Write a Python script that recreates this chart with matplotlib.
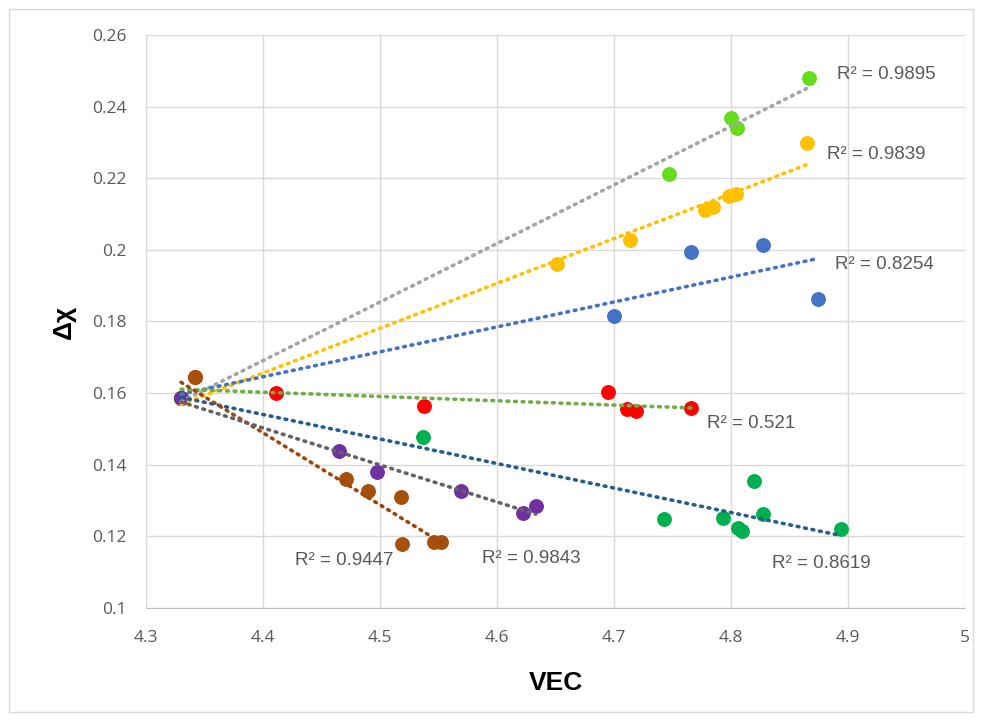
import numpy as np
import matplotlib
matplotlib.use("Agg")
import matplotlib.pyplot as plt
from matplotlib.patches import Rectangle

plt.rcParams['font.family'] = ['Open Sans', 'DejaVu Sans']

# ---- data ----
lime_x = [4.330, 4.747, 4.800, 4.805, 4.867]
lime_y = [0.1585, 0.2213, 0.2369, 0.2339, 0.2481]

orange_x = [4.330, 4.651, 4.714, 4.778, 4.785, 4.798, 4.804, 4.865]
orange_y = [0.1585, 0.1960, 0.2028, 0.2111, 0.2120, 0.2151, 0.2157, 0.2297]

blue_x = [4.330, 4.700, 4.766, 4.827, 4.874]
blue_y = [0.1585, 0.1814, 0.1995, 0.2013, 0.1863]

red_x = [4.330, 4.342, 4.411, 4.538, 4.695, 4.711, 4.719, 4.766]
red_y = [0.1585, 0.1645, 0.1600, 0.1565, 0.1604, 0.1557, 0.1549, 0.1558]

green_x = [4.330, 4.537, 4.743, 4.793, 4.806, 4.809, 4.820, 4.827, 4.894]
green_y = [0.1585, 0.1478, 0.1249, 0.1251, 0.1222, 0.1215, 0.1355, 0.1262, 0.1220]

brown_x = [4.330, 4.342, 4.471, 4.490, 4.518, 4.519, 4.546, 4.552]
brown_y = [0.1585, 0.1645, 0.1360, 0.1327, 0.1309, 0.1178, 0.1183, 0.1183]

purple_x = [4.330, 4.465, 4.497, 4.569, 4.622, 4.633]
purple_y = [0.1585, 0.1437, 0.1380, 0.1326, 0.1264, 0.1284]

r2_labels = ["R² = 0.9895", "R² = 0.9839", "R² = 0.8254", "R² = 0.521",
             "R² = 0.8619", "R² = 0.9447", "R² = 0.9843"]
r2_pos = [(4.933, 0.2491), (4.924, 0.2265), (4.931, 0.1958), (4.817, 0.1514),
          (4.877, 0.1124), (4.469, 0.1132), (4.629, 0.1138)]

x_ticks = [4.3, 4.4, 4.5, 4.6, 4.7, 4.8, 4.9, 5.0]
x_tick_labels = ["4.3", "4.4", "4.5", "4.6", "4.7", "4.8", "4.9", "5"]
y_ticks = [0.10, 0.12, 0.14, 0.16, 0.18, 0.20, 0.22, 0.24, 0.26]
y_tick_labels = ["0.1", "0.12", "0.14", "0.16", "0.18", "0.2", "0.22", "0.24", "0.26"]

series = [
    (lime_x, lime_y, "#66DD1C", "#A5A5A5"),
    (orange_x, orange_y, "#FFC000", "#FFC000"),
    (blue_x, blue_y, "#4472C4", "#4472C4"),
    (red_x, red_y, "#FF0000", "#70AD47"),
    (green_x, green_y, "#00B050", "#255E91"),
    (brown_x, brown_y, "#A6500E", "#9E480E"),
    (purple_x, purple_y, "#7030A0", "#636363"),
]

fig = plt.figure(figsize=(9.82, 7.2), dpi=100)
fig.patches.append(Rectangle((0.009, 0.011), 0.982, 0.977, transform=fig.transFigure,
                             fill=False, edgecolor="#D9D9D9", linewidth=1.0))
ax = fig.add_axes([0.1487, 0.1556, 0.8340, 0.7958])

for i, (xs, ys, mc, lc) in enumerate(series):
    ax.scatter(xs, ys, s=115, color=mc, zorder=2 + i * 0.01, linewidths=0)

for xs, ys, mc, lc in series:
    xs_a = np.array(xs)
    ys_a = np.array(ys)
    k, b = np.polyfit(xs_a, ys_a, 1)
    xx = np.array([xs_a.min(), xs_a.max()])
    ax.plot(xx, k * xx + b, color=lc, linewidth=2.6,
            linestyle=(0, (0.5, 1.6)), dash_capstyle='round', zorder=3)

for lab, (tx, ty) in zip(r2_labels, r2_pos):
    ax.text(tx, ty, lab, fontsize=13.5, color="#595959", ha="center", va="center",
            family=["Liberation Sans", "DejaVu Sans"])

ax.set_xlim(4.3, 5.0)
ax.set_ylim(0.10, 0.26)
ax.set_xticks(x_ticks)
ax.set_xticklabels(x_tick_labels)
ax.set_yticks(y_ticks)
ax.set_yticklabels(y_tick_labels)
ax.tick_params(axis='both', length=0, labelsize=12.5, colors="#595959")
ax.tick_params(axis='y', pad=14)
ax.tick_params(axis='x', pad=16)
ax.grid(True, color="#D9D9D9", linewidth=1.0, zorder=0)
ax.set_axisbelow(True)
for sp in ax.spines.values():
    sp.set_visible(False)
ax.spines['bottom'].set_visible(True)
ax.spines['bottom'].set_color("#BFBFBF")
ax.spines['left'].set_visible(True)
ax.spines['left'].set_color("#D9D9D9")

ax.set_xlabel("VEC", fontsize=19, fontweight='bold', color="black", labelpad=18,
              family=["Liberation Sans Narrow", "Liberation Sans", "DejaVu Sans"])
ax.set_ylabel("Δχ", fontsize=19, fontweight='bold', color="black", labelpad=12,
              family=["Liberation Sans", "DejaVu Sans"])

fig.savefig("out.png", dpi=100)
